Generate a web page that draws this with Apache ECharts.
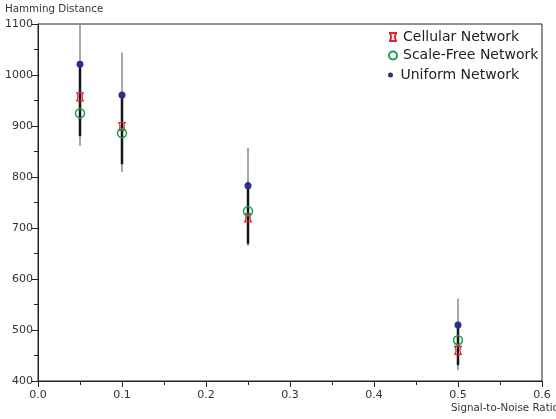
<!DOCTYPE html>
<html><head><meta charset="utf-8">
<script src="https://cdn.jsdelivr.net/npm/echarts@6/dist/echarts.min.js"></script>
<style>html,body{margin:0;padding:0;background:#fff}#c{width:556px;height:419px}</style>
</head><body><div id="c"></div>
<script>
const snr = [0.05, 0.1, 0.25, 0.5];
const cellular = [957, 899, 720, 460];
const scaleFree = [925, 886, 733, 480];
const uniform = [1021, 961, 783, 510];
const grayHigh = [1100, 1044, 857, 562];
const grayLow = [861, 810, 665, 421];
const blackHigh = [1021, 961, 790, 510];
const blackLow = [880, 825, 669, 431];
const xTicks = [0.0, 0.1, 0.2, 0.3, 0.4, 0.5, 0.6];
const yTicks = [400, 500, 600, 700, 800, 900, 1000, 1100];

const font = 'DejaVu Sans, sans-serif';
const cellPath = 'path://M0,0 L10,0 M0,10 L10,10 M1,0 Q4,5 1,10 M9,0 Q6,5 9,10';
const RED = '#e8202a', GREEN = '#16a050', NAVY = '#2a2f8c';

function barSeries(lo, hi, color, width, z) {
  return {
    type: 'custom', z: z, silent: true,
    data: snr.map((x, i) => [x, lo[i], hi[i]]),
    renderItem: function (params, api) {
      const a = api.coord([api.value(0), api.value(1)]);
      const b = api.coord([api.value(0), api.value(2)]);
      return { type: 'line', shape: { x1: a[0], y1: a[1], x2: b[0], y2: b[1] },
        style: { stroke: color, lineWidth: width } };
    }
  };
}

const legendText = { fontSize: 14, color: '#222', fontFamily: font, lineHeight: 16 };
const chart = echarts.init(document.getElementById('c'), null, { renderer: 'canvas' });
chart.setOption({
  animation: false,
  backgroundColor: '#fff',
  textStyle: { fontFamily: font },
  grid: { left: 38, right: 14, top: 24, bottom: 38, show: true, borderColor: '#222', borderWidth: 1 },
  xAxis: {
    type: 'value', min: 0, max: 0.6, interval: 0.1,
    axisLine: { lineStyle: { color: '#222' } },
    axisTick: { length: 6, lineStyle: { color: '#222' } },
    minorTick: { show: true, splitNumber: 2, length: 4, lineStyle: { color: '#222' } },
    splitLine: { show: false },
    axisLabel: { color: '#333', fontSize: 11, fontFamily: font, margin: 9,
      formatter: v => { const t = xTicks.find(k => Math.abs(k - v) < 1e-9); return (t !== undefined ? t : v).toFixed(1); } }
  },
  yAxis: {
    type: 'value', min: 400, max: 1100, interval: 100,
    axisLine: { show: true, lineStyle: { color: '#222' } },
    axisTick: { show: true, length: 6, lineStyle: { color: '#222' } },
    minorTick: { show: true, splitNumber: 2, length: 4, lineStyle: { color: '#222' } },
    splitLine: { show: false },
    axisLabel: { color: '#333', fontSize: 11, fontFamily: font, margin: 5,
      formatter: v => String(yTicks.find(k => k === v) ?? v) }
  },
  legend: [
    { orient: 'vertical', left: 388, top: 29, padding: 0, itemWidth: 10, itemHeight: 8, itemGap: 0,
      textStyle: legendText, data: ['Cellular Network'] },
    { orient: 'vertical', left: 388, top: 47.5, padding: 0, itemWidth: 10, itemHeight: 8, itemGap: 0,
      textStyle: legendText, data: ['Scale-Free Network'] },
    { orient: 'vertical', left: 388, top: 67, padding: 0, itemWidth: 10, itemHeight: 5, itemGap: 0,
      textStyle: legendText, data: ['Uniform Network'] }
  ],
  graphic: [
    { type: 'text', left: 5, top: 4, style: { text: 'Hamming Distance', font: '10.3px ' + font, fill: '#333' } },
    { type: 'text', left: 451, top: 403, style: { text: 'Signal-to-Noise Ratio', font: '10.3px ' + font, fill: '#333' } }
  ],
  series: [
    barSeries(grayLow, grayHigh, '#8a8a8a', 1.5, 1),
    barSeries(blackLow, blackHigh, '#151515', 2.5, 2),
    { name: 'Cellular Network', type: 'scatter', z: 3, symbol: cellPath, symbolSize: 8,
      itemStyle: { color: 'rgba(0,0,0,0)', borderColor: RED, borderWidth: 1.2, opacity: 1 },
      data: snr.map((x, i) => [x, cellular[i]]) },
    { name: 'Scale-Free Network', type: 'scatter', z: 4, symbol: 'circle', symbolSize: 9,
      itemStyle: { color: 'rgba(0,0,0,0)', borderColor: GREEN, borderWidth: 1.5, opacity: 1 },
      data: snr.map((x, i) => [x, scaleFree[i]]) },
    { name: 'Uniform Network', type: 'scatter', z: 5, symbol: 'circle', symbolSize: 7,
      itemStyle: { color: NAVY, opacity: 1 },
      data: snr.map((x, i) => [x, uniform[i]]) }
  ]
});
</script></body></html>
